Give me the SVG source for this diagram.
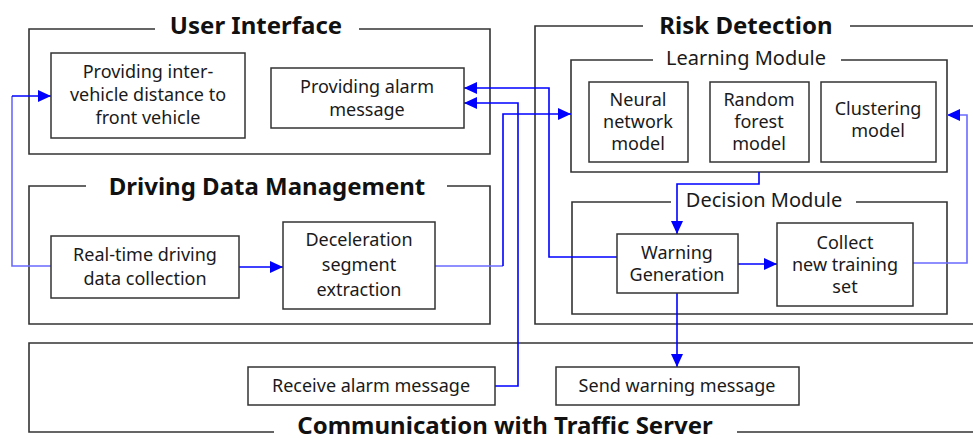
<svg xmlns="http://www.w3.org/2000/svg" width="973" height="439" viewBox="0 0 973 439">
<style>
.frame{fill:none;stroke:#333;stroke-width:1.6}
.box{fill:#fff;stroke:#333;stroke-width:1.5}
.t{font-family:"Noto Sans","Open Sans",sans-serif;font-size:18px;fill:#1a1a1a;text-anchor:middle}
.h{font-family:"Noto Sans","Open Sans",sans-serif;font-size:24px;font-weight:bold;fill:#111;text-anchor:middle}
.s{font-family:"Noto Sans","Open Sans",sans-serif;font-size:20px;fill:#1a1a1a;text-anchor:middle}
.c{fill:none;stroke:#0000ff;stroke-width:1.6}
.cl{fill:none;stroke:#6a6aff;stroke-width:1.6}
</style>
<defs>
<marker id="ah" markerUnits="userSpaceOnUse" markerWidth="14" markerHeight="12" refX="13" refY="6" orient="auto">
<path d="M0,0 L13,6 L0,12 z" fill="#0000ff"/>
</marker>
</defs>

<g id="group-user-interface">
<path class="frame" d="M155,29 H29 V154 H490 V29 H359"/>
<text class="h" x="256" y="34">User Interface</text>
</g>
<g id="group-driving-data">
<path class="frame" d="M86,186 H29 V324 H490 V186 H447"/>
<text class="h" x="267" y="195">Driving Data Management</text>
</g>
<g id="group-risk-detection">
<path class="frame" d="M643,26 H535 V324 H980 M850,26 H980"/>
<text class="h" x="746" y="34">Risk Detection</text>
</g>
<g id="group-learning">
<path class="frame" d="M653,60 H571 V172 H947 V60 H841"/>
<text class="s" x="746" y="65">Learning Module</text>
</g>
<g id="group-decision">
<path class="frame" d="M671,202 H572 V314 H947 V202 H856"/>
<text class="s" x="764" y="207">Decision Module</text>
</g>
<g id="group-communication">
<path class="frame" d="M274,432 H29 V343 H980 M737,432 H980"/>
<text class="h" x="505" y="434">Communication with Traffic Server</text>
</g>

<g id="connectors">
<path class="cl" d="M51,266 H12 V96"/>
<path class="c" d="M12,96 H51" marker-end="url(#ah)"/>
<path class="c" d="M239,267 H283" marker-end="url(#ah)"/>
<path class="cl" d="M435,266 H503"/>
<path class="c" d="M503,266 V114 H571" marker-end="url(#ah)"/>
<path class="c" d="M617,257 H549 V88 H464" marker-end="url(#ah)"/>
<path class="c" d="M495,386 H518 V103 H464" marker-end="url(#ah)"/>
<path class="c" d="M759,172 V184 H677 V234" marker-end="url(#ah)"/>
<path class="c" d="M738,264 H777" marker-end="url(#ah)"/>
<path class="cl" d="M913,263 H967 V115 H947" marker-end="url(#ah)"/>
<path class="c" d="M677,293 V367" marker-end="url(#ah)"/>
</g>

<g id="node-inter-vehicle">
<rect class="box" x="51" y="53" width="194" height="85"/>
<text class="t" x="148" y="78">Providing inter-</text>
<text class="t" x="148" y="101">vehicle distance to</text>
<text class="t" x="148" y="124">front vehicle</text>
</g>
<g id="node-alarm-message">
<rect class="box" x="271" y="68" width="193" height="60"/>
<text class="t" x="367" y="93">Providing alarm</text>
<text class="t" x="367" y="116">message</text>
</g>
<g id="node-realtime">
<rect class="box" x="51" y="236" width="188" height="62"/>
<text class="t" x="145" y="261">Real-time driving</text>
<text class="t" x="145" y="285">data collection</text>
</g>
<g id="node-deceleration">
<rect class="box" x="283" y="222" width="152" height="87"/>
<text class="t" x="359" y="246">Deceleration</text>
<text class="t" x="359" y="271">segment</text>
<text class="t" x="359" y="296">extraction</text>
</g>
<g id="node-neural">
<rect class="box" x="589" y="82" width="99" height="80"/>
<text class="t" x="638" y="106">Neural</text>
<text class="t" x="638" y="128">network</text>
<text class="t" x="638" y="150">model</text>
</g>
<g id="node-random-forest">
<rect class="box" x="710" y="82" width="99" height="80"/>
<text class="t" x="759" y="106">Random</text>
<text class="t" x="759" y="128">forest</text>
<text class="t" x="759" y="150">model</text>
</g>
<g id="node-clustering">
<rect class="box" x="821" y="82" width="115" height="80"/>
<text class="t" x="878" y="115">Clustering</text>
<text class="t" x="878" y="137">model</text>
</g>
<g id="node-warning">
<rect class="box" x="617" y="234" width="121" height="59"/>
<text class="t" x="677" y="259">Warning</text>
<text class="t" x="677" y="281">Generation</text>
</g>
<g id="node-collect">
<rect class="box" x="777" y="223" width="136" height="83"/>
<text class="t" x="845" y="249">Collect</text>
<text class="t" x="845" y="271">new training</text>
<text class="t" x="845" y="293">set</text>
</g>
<g id="node-receive">
<rect class="box" x="248" y="367" width="247" height="38"/>
<text class="t" x="371" y="392">Receive alarm message</text>
</g>
<g id="node-send">
<rect class="box" x="556" y="367" width="243" height="38"/>
<text class="t" x="677" y="392">Send warning message</text>
</g>
</svg>
